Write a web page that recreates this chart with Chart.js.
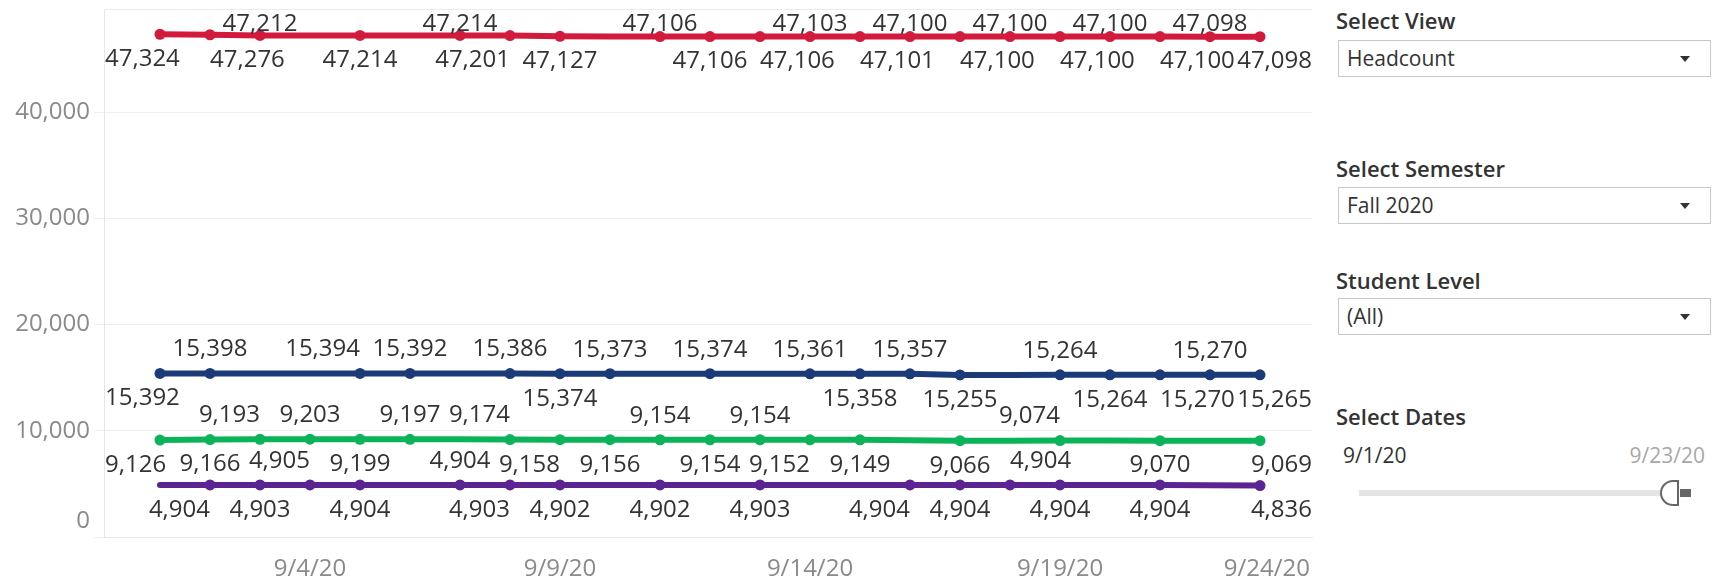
<!DOCTYPE html>
<html>
<head>
<meta charset="utf-8">
<title>Headcount by day</title>
<script src="https://cdn.jsdelivr.net/npm/chart.js@4.4.1/dist/chart.umd.min.js"></script>
<style>
    body {
        margin: 0;
        background: #fff;
        font-family: "Open Sans", sans-serif;
        width: 1715px;
        height: 584px;
        overflow: hidden;
        position: relative;
    }
    #chartBox { position: absolute; left: 0; top: 0; width: 1330px; height: 584px; }
    .filter-title {
        position: absolute;
        left: 1336px;
        font-size: 22px;
        font-weight: 600;
        color: #333;
        line-height: 24px;
        white-space: nowrap;
    }
    .dropdown {
        position: absolute;
        left: 1338px;
        width: 373px;
        height: 37px;
        border: 1px solid #c8c8c8;
        box-sizing: border-box;
        font-size: 21px;
        color: #333;
        line-height: 35px;
        padding-left: 8px;
    }
    .dropdown::after {
        content: '';
        position: absolute;
        right: 20px;
        top: 15px;
        border-left: 5px solid transparent;
        border-right: 5px solid transparent;
        border-top: 6px solid #333;
    }
    .range-label { position: absolute; top: 441px; font-size: 21px; line-height: 28px; }
    .track { position: absolute; left: 1359px; top: 490px; width: 304px; height: 6px; background: #e4e4e4; }
    .thumb {
        position: absolute; left: 1660px; top: 480px; width: 19px; height: 26px;
        box-sizing: border-box; border: 2px solid #666;
        border-radius: 13px 0 0 13px; background: #fff;
    }
    .thumb-tab { position: absolute; left: 1680px; top: 489px; width: 11px; height: 8px; background: #666; }
</style>
</head>
<body>
<div id="chartBox"><canvas id="headcountChart"></canvas></div>

<div class="filter-title" style="top:8px">Select View</div>
<div class="dropdown" style="top:40px">Headcount</div>
<div class="filter-title" style="top:156px">Select Semester</div>
<div class="dropdown" style="top:187px">Fall 2020</div>
<div class="filter-title" style="top:268px">Student Level</div>
<div class="dropdown" style="top:298px">(All)</div>
<div class="filter-title" style="top:404px">Select Dates</div>
<div class="range-label" style="left:1343px;color:#333">9/1/20</div>
<div class="range-label" style="right:10px;color:#a8a8a8">9/23/20</div>
<div class="track"></div>
<div class="thumb"></div>
<div class="thumb-tab"></div>

<script>
const dates = ['9/1/20', '9/2/20', '9/3/20', '9/4/20', '9/5/20', '9/6/20', '9/7/20', '9/8/20',
    '9/9/20', '9/10/20', '9/11/20', '9/12/20', '9/13/20', '9/14/20', '9/15/20', '9/16/20',
    '9/17/20', '9/18/20', '9/19/20', '9/20/20', '9/21/20', '9/22/20', '9/23/20'];

const redValues = [47324, 47276, 47212, 47213, 47214, 47214, 47214, 47201, 47127, 47110, 47106, 47106,
    47106, 47103, 47101, 47100, 47100, 47100, 47100, 47100, 47100, 47098, 47098];
const blueValues = [15392, 15398, 15396, 15395, 15394, 15392, 15390, 15386, 15374, 15373, 15374, 15374,
    15368, 15361, 15358, 15357, 15255, 15258, 15264, 15264, 15270, 15270, 15265];
const greenValues = [9126, 9166, 9193, 9203, 9199, 9197, 9190, 9174, 9158, 9156, 9154, 9154,
    9154, 9152, 9149, 9110, 9066, 9068, 9074, 9072, 9070, 9070, 9069];
const purpleValues = [4904, 4904, 4903, 4905, 4904, 4904, 4904, 4903, 4902, 4902, 4902, 4903,
    4903, 4904, 4904, 4904, 4904, 4904, 4904, 4904, 4904, 4870, 4836];

// where each mark label sits: a = above, b = below, l/r = pushed to that side, '' = hidden
const redLabelPos = ['bl', 'br', 'a', '', 'b', '', 'a', 'bl', 'b', '', 'a', 'b', 'br', 'a', 'br', 'a', 'br', 'a', 'br', 'a', 'br', 'a', 'br'];
const blueLabelPos = ['bl', 'a', '', '', 'al', 'a', '', 'a', 'b', 'a', '', 'a', '', 'a', 'b', 'a', 'b', '', 'a', 'b', 'br', 'a', 'br'];
const greenLabelPos = ['bl', 'b', 'al', 'a', 'b', 'a', '', 'al', 'bl', 'b', 'a', 'b', 'a', 'bl', 'b', '', 'b', '', 'al', '', 'b', '', 'br'];
const purpleLabelPos = ['', 'bl', 'b', 'al', 'b', '', 'a', 'bl', 'b', '', 'b', '', 'b', '', '', 'bl', 'b', 'ar', 'b', '', 'b', '', 'br'];

const yTicks = [0, 10000, 20000, 30000, 40000];
const xTickDays = [3, 8, 13, 18, 23];
const xTickLabels = ['9/4/20', '9/9/20', '9/14/20', '9/19/20', '9/24/20'];

const FONT = '24px "Open Sans"';

function makeSeries(values, labelPos, color) {
    return {
        data: values.map((v, i) => ({ x: i, y: v })),
        labelPos: labelPos,
        borderColor: color,
        backgroundColor: color,
        borderWidth: 6,
        borderCapStyle: 'round',
        borderJoinStyle: 'round',
        tension: 0,
        pointRadius: ctx => labelPos[ctx.dataIndex] ? 5.5 : 0,
        pointBorderWidth: 0
    };
}

const pointLabels = {
    id: 'pointLabels',
    afterDatasetsDraw(chart) {
        const { ctx, chartArea } = chart;
        ctx.save();
        ctx.font = FONT;
        ctx.fillStyle = '#333';
        ctx.textAlign = 'center';
        ctx.textBaseline = 'middle';
        chart.data.datasets.forEach((ds, di) => {
            chart.getDatasetMeta(di).data.forEach((pt, i) => {
                const pos = ds.labelPos[i];
                if (!pos) return;
                const text = ds.data[i].y.toLocaleString('en-US');
                const w = ctx.measureText(text).width;
                let cx = pt.x;
                if (pos[1] === 'l') cx -= w / 2;
                if (pos[1] === 'r') cx += w / 2;
                cx = Math.max(chartArea.left + w / 2 + 1, Math.min(chartArea.right - w / 2, cx));
                let cy = pos[0] === 'a' ? pt.y - 24 : pt.y + 25;
                cy = Math.max(chartArea.top + 15, Math.min(chartArea.bottom - 12, cy));
                ctx.fillText(text, cx, cy);
            });
        });
        ctx.restore();
    }
};

// tableau keeps edge tick labels inside the pane, so they are drawn here
const axisLabels = {
    id: 'axisLabels',
    beforeDatasetsDraw(chart) {
        const { ctx, chartArea } = chart;
        ctx.save();
        ctx.strokeStyle = '#ececec';
        ctx.lineWidth = 1;
        ctx.beginPath();
        ctx.moveTo(chartArea.left, chartArea.top + 0.5);
        ctx.lineTo(chartArea.right, chartArea.top + 0.5);
        ctx.stroke();
        ctx.restore();
    },
    afterDraw(chart) {
        const { ctx, chartArea, scales } = chart;
        ctx.save();
        ctx.font = FONT;
        ctx.fillStyle = '#8a8a8a';
        ctx.textBaseline = 'middle';
        ctx.textAlign = 'right';
        scales.y.ticks.forEach(t => {
            const y = Math.min(scales.y.getPixelForValue(t.value), chartArea.bottom - 16);
            ctx.fillText(t.value.toLocaleString('en-US'), 90, y);
        });
        ctx.textAlign = 'center';
        scales.x.ticks.forEach((t, i) => {
            const label = xTickLabels[i];
            const w = ctx.measureText(label).width;
            const x = Math.min(scales.x.getPixelForValue(t.value), chartArea.right - 2 - w / 2);
            ctx.fillText(label, x, 569);
        });
        ctx.restore();
    }
};

const chart = new Chart(document.getElementById('headcountChart'), {
    type: 'line',
    data: {
        datasets: [
            makeSeries(redValues, redLabelPos, '#d21a3d'),
            makeSeries(blueValues, blueLabelPos, '#1b3a78'),
            makeSeries(greenValues, greenLabelPos, '#0db35b'),
            makeSeries(purpleValues, purpleLabelPos, '#5c2392')
        ]
    },
    options: {
        responsive: true,
        maintainAspectRatio: false,
        animation: false,
        layout: { padding: { top: 9, right: 18, left: 0, bottom: 0 } },
        plugins: { legend: { display: false }, tooltip: { enabled: false } },
        scales: {
            x: {
                type: 'linear',
                min: -1.12,
                max: 23.04,
                afterBuildTicks: scale => { scale.ticks = xTickDays.map(v => ({ value: v })); },
                afterFit: scale => { scale.height = 47; },
                ticks: { display: false },
                grid: { display: false },
                border: { display: true, color: '#e6e6e6' }
            },
            y: {
                min: 0,
                max: 49700,
                afterBuildTicks: scale => { scale.ticks = yTicks.map(v => ({ value: v })); },
                afterFit: scale => { scale.width = 104; },
                ticks: { display: false },
                grid: { color: '#efefef', tickLength: 10, drawTicks: true },
                border: { display: true, color: '#e6e6e6' }
            }
        }
    },
    plugins: [pointLabels, axisLabels]
});
</script>
</body>
</html>
